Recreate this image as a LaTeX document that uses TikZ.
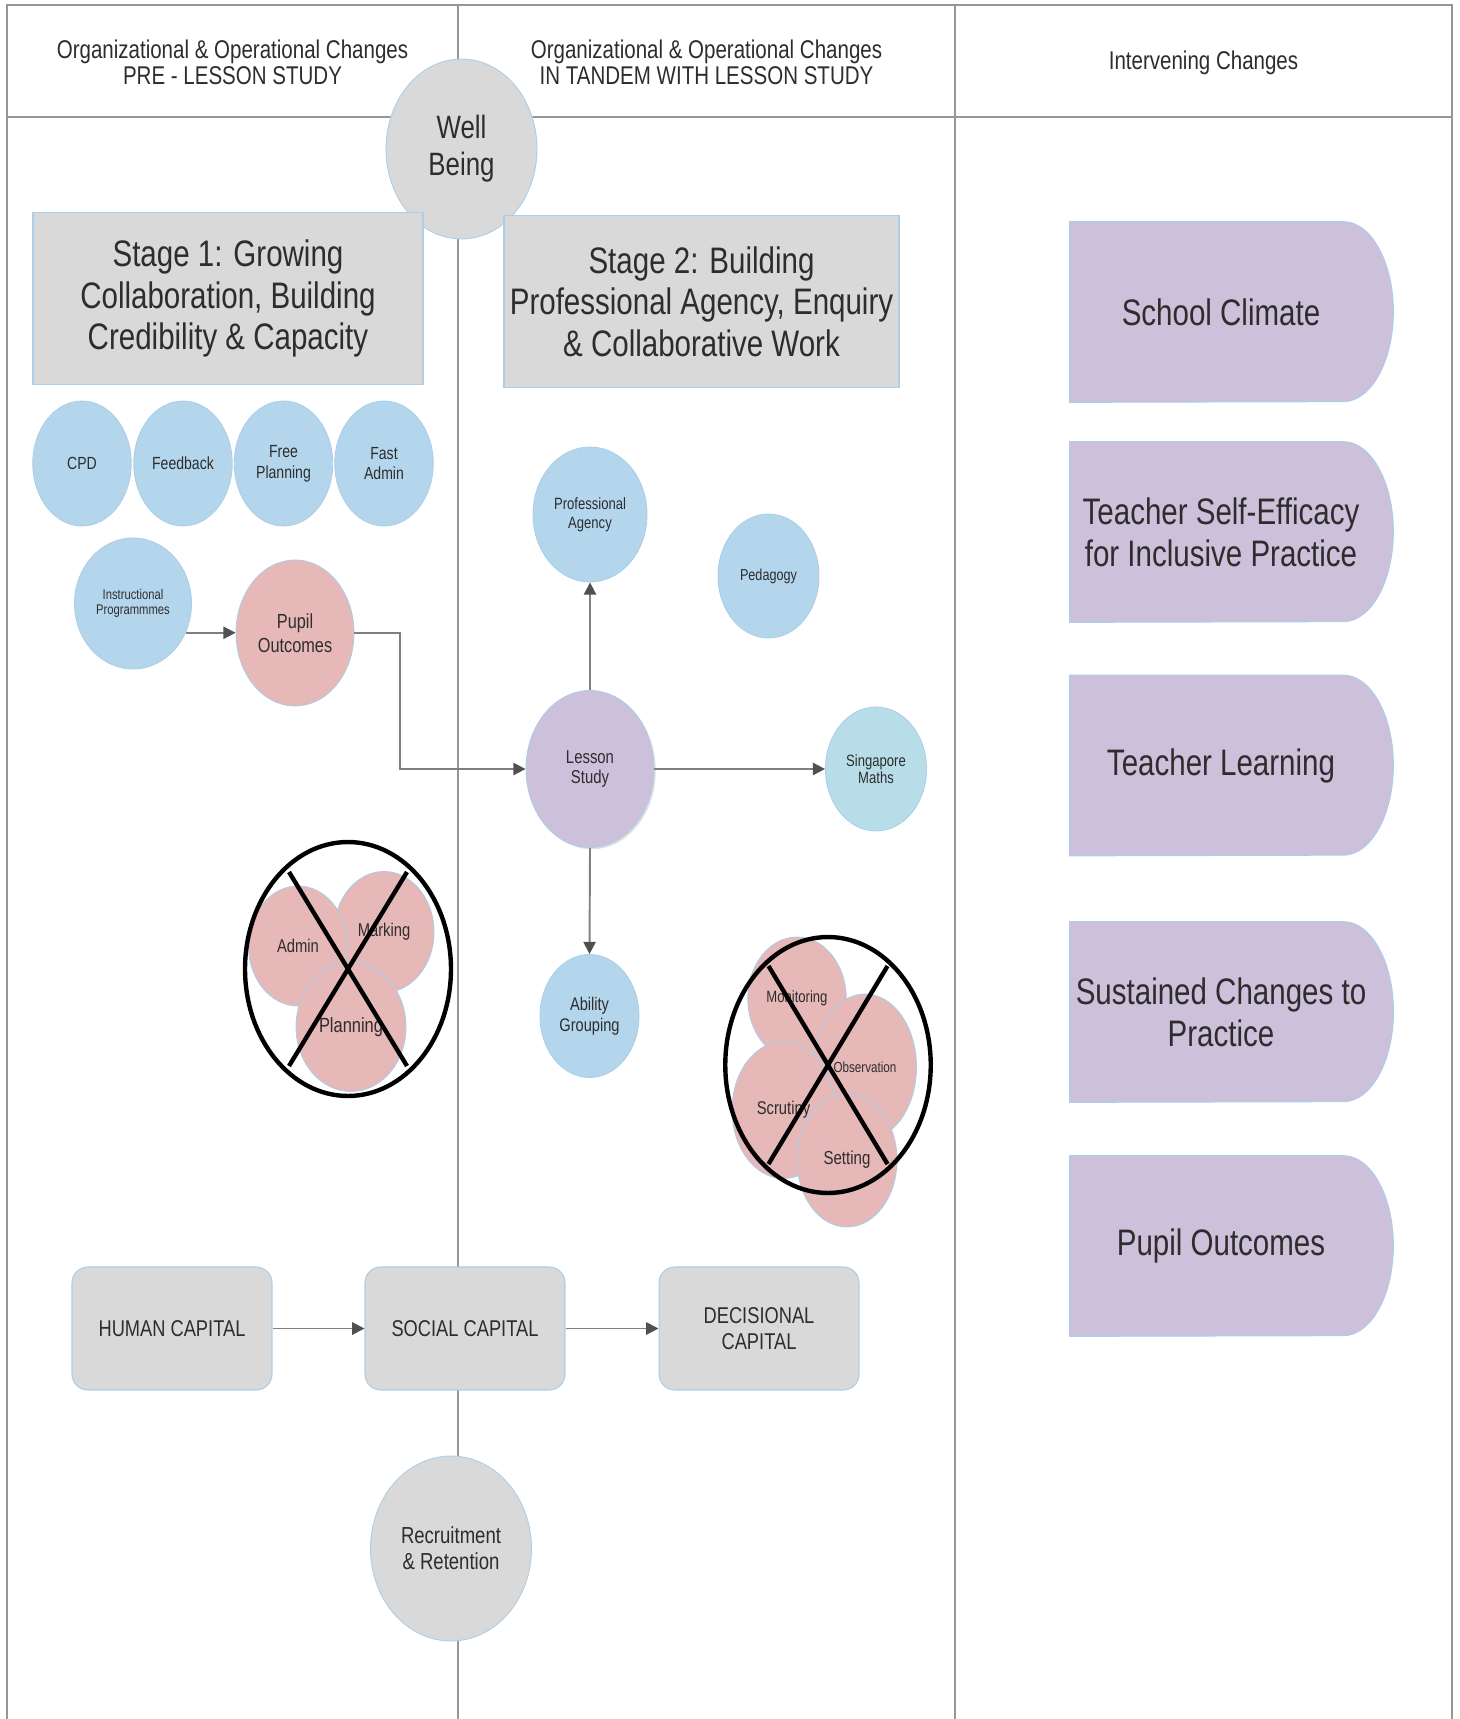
\documentclass[tikz,border=0pt]{standalone}
\usepackage{fontspec}
\setmainfont{Liberation Sans}[FakeStretch=0.8]
\usepackage{xcolor}
\usepackage{tikz}
\usetikzlibrary{arrows.meta, shadows, shapes.geometric, backgrounds}

\definecolor{boxgray}{RGB}{217,217,217}
\definecolor{bubbleblue}{RGB}{180,214,236}
\definecolor{mathsblue}{RGB}{183,221,232}
\definecolor{pinkfill}{RGB}{230,184,183}
\definecolor{lilac}{RGB}{204,192,218}
\definecolor{edgeblue}{RGB}{172,206,232}
\definecolor{framegray}{RGB}{150,150,150}
\definecolor{linegray}{RGB}{128,128,128}
\definecolor{tipgray}{RGB}{80,80,80}
\definecolor{inkgray}{RGB}{45,45,45}

\newcommand{\fs}[2]{\fontsize{#1}{#2}\selectfont}

\begin{document}
\begin{tikzpicture}[
  x=0.02cm, y=-0.02cm,
  bubble/.style={
    ellipse,
    draw=edgeblue,
    line width=0.5pt,
    fill=#1,
    text=inkgray,
    inner sep=0pt,
    align=center
  },
  stagebox/.style={
    rectangle,
    draw=edgeblue,
    line width=0.8pt,
    fill=boxgray,
    text=inkgray,
    minimum height=3.44cm,
    inner sep=0pt,
    font=\fs{21}{23.7},
    align=center
  },
  capital/.style={
    rectangle,
    draw=edgeblue,
    line width=0.6pt,
    fill=boxgray,
    rounded corners=9pt,
    minimum width=4cm,
    minimum height=2.46cm,
    text=inkgray,
    font=\fs{13}{14.5},
    align=center
  },
  change/.style={
    rectangle,
    minimum width=6.04cm,
    minimum height=3.6cm,
    text=inkgray,
    font=\fs{21}{23.7},
    align=center
  },
  changefill/.style={fill=lilac, draw=edgeblue, line width=0.6pt},
  header/.style={text=inkgray, font=\fs{14.6}{15}, align=center},
  frame/.style={draw=framegray, line width=1pt},
  ring/.style={ellipse, draw=black, line width=2.5pt},
  connection/.style={
    -{Triangle[length=7pt,width=7pt,color=tipgray]},
    line width=1.1pt,
    draw=linegray
  },
  cross/.style={draw=black, line width=2.5pt},
  wh/.style 2 args={minimum width=#1cm, minimum height=#2cm}
]
\useasboundingbox (0,0) rectangle (1459,1719);

% Frame and column rules
\draw[frame] (7,1719) -- (7,5) -- (1452,5) -- (1452,1719);
\draw[frame] (7,117) -- (1452,117);
\draw[frame] (458,5) -- (458,1719);
\draw[frame] (955,5) -- (955,1719);

% Column headings
\node[header] (hd1) at (232.5,62.5) {Organizational \& Operational Changes\\PRE - LESSON STUDY};
\node[header] (hd2) at (706.5,62.5) {Organizational \& Operational Changes\\IN TANDEM WITH LESSON STUDY};
\node[header] (hd3) at (1203.5,62.5) {Intervening Changes};

% Well being and the two stages
\node[bubble=boxgray, wh={3.02}{3.6}, font=\fs{18.4}{21}] (wb) at (461.5,149) {Well\\Being};
\node[stagebox, minimum width=7.8cm] (st1) at (228,298.5) {Stage 1: Growing\\Collaboration, Building\\Credibility \& Capacity};
\node[stagebox, minimum width=7.9cm] (st2) at (701.5,301.5) {Stage 2: Building\\Professional Agency, Enquiry\\\& Collaborative Work};

% Stage 1 bubbles
\foreach \nm/\xx/\txt in {cpd/82/{CPD}, fb/183/{Feedback}, fp/283.5/{Free\\Planning}, fa/384/{Fast\\Admin}}
  \node[bubble=bubbleblue, wh={1.97}{2.5}, font=\fs{10}{11.8}] (\nm) at (\xx,463.5) {\txt};

\node[bubble=bubbleblue, wh={2.34}{2.62}, font=\fs{8}{8.7}] (ip) at (133,603.5) {Instructional\\Programmmes};
\node[bubble=pinkfill, wh={2.36}{2.92}, font=\fs{11.6}{13.7}] (po) at (295,633) {Pupil\\Outcomes};

% Stage 2 bubbles
\node[bubble=lilac, wh={2.56}{3.14}, font=\fs{10.6}{11.9},
  drop shadow={opacity=0.25, shadow xshift=1pt, shadow yshift=-1pt}] (ls) at (590,769) {Lesson\\Study};
\node[bubble=bubbleblue, wh={2.28}{2.7}, font=\fs{9.3}{10.6}] (pa) at (590,514.5) {Professional\\Agency};
\node[bubble=bubbleblue, wh={2.02}{2.48}, font=\fs{9}{10}] (ped) at (768.5,576) {Pedagogy};
\node[bubble=mathsblue, wh={2.02}{2.48}, font=\fs{9.3}{9.6}] (sm) at (876,769) {Singapore\\Maths};
\node[bubble=bubbleblue, wh={1.98}{2.46}, font=\fs{10.4}{11.9}] (ag) at (589.5,1016) {Ability\\Grouping};

% Connections
\draw[connection] (ip.-29) -- (ip.-29 -| po.west);
\draw[connection] (po.east) -- ++(46,0) |- (ls.west);
\draw[connection] (ls.north) -- (pa.south);
\draw[connection] (ls.east) -- (sm.west);
\draw[connection] (ls.south) -- (ag.north);

% Dropped practices, crossed out
\node[bubble=pinkfill, wh={2.0}{2.42}, font=\fs{10.5}{12}] (mrk) at (384,932) {Marking};
\node[bubble=pinkfill, wh={1.98}{2.4}, font=\fs{10.5}{12}] (adm) at (298,946) {Admin};
\node[bubble=pinkfill, wh={2.2}{2.58}, font=\fs{11.7}{13}] (pln) at (351,1027) {Planning};
\node[ring, wh={4.12}{5.08}] (ring1) at (348,969) {};
\draw[cross] ([shift={(-59,-97)}]ring1.center) -- ([shift={(59,97)}]ring1.center);
\draw[cross] ([shift={(59,-97)}]ring1.center) -- ([shift={(-59,97)}]ring1.center);

\node[bubble=pinkfill, wh={1.97}{2.46}, font=\fs{9.3}{10}] (mon) at (797,998.5) {Monitoring};
\node[bubble=pinkfill, wh={2.06}{2.92}, font=\fs{8.3}{9}] (obs) at (865,1067) {Observation};
\node[bubble=pinkfill, wh={2.06}{2.74}, font=\fs{10.5}{11}] (scr) at (783.5,1110) {Scrutiny};
\node[bubble=pinkfill, wh={2.0}{2.68}, font=\fs{10.7}{11}] (set) at (847,1160) {Setting};
\node[ring, wh={4.11}{5.12}] (ring2) at (828,1065) {};
\draw[cross] ([shift={(-59.5,-99)}]ring2.center) -- ([shift={(59.5,99)}]ring2.center);
\draw[cross] ([shift={(59.5,-99)}]ring2.center) -- ([shift={(-59.5,99)}]ring2.center);

% Capitals
\node[capital] (hc) at (172,1328.5) {HUMAN CAPITAL};
\node[capital] (soc) at (465,1328.5) {SOCIAL CAPITAL};
\node[capital] (dec) at (759,1328.5) {DECISIONAL\\CAPITAL};
\draw[connection] (hc) -- (soc);
\draw[connection] (soc) -- (dec);

\node[bubble=boxgray, wh={3.22}{3.7}, font=\fs{13.2}{14.8}] (rr) at (451,1548.5) {Recruitment\\\& Retention};

% Intervening changes
\foreach \nm/\yy/\txt in {sc/312/{School Climate}, tse/532/{Teacher Self-Efficacy\\for Inclusive Practice}, tl/765.5/{Teacher Learning}, scp/1012/{Sustained Changes to\\Practice}, pout/1246/{Pupil Outcomes}}
  \node[change] (\nm) at (1221,\yy) {\txt};

\begin{scope}[on background layer]
\foreach \nm in {sc,tse,tl,scp,pout}
  \path[changefill] (\nm.north west) -- ([xshift=-0.58cm]\nm.north east)
    arc[start angle=90, end angle=-90, x radius=1cm, y radius=1.8cm] -- (\nm.south west) -- cycle;
\end{scope}
\end{tikzpicture}
\end{document}
